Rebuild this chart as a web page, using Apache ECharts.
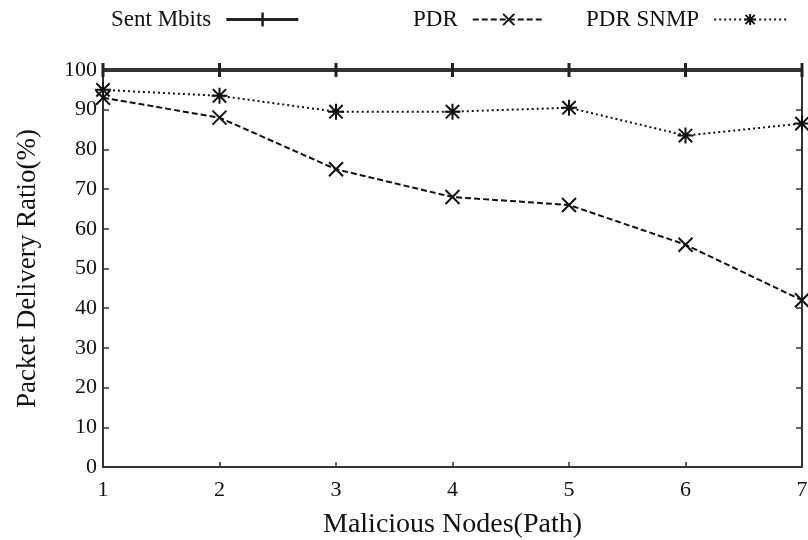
<!DOCTYPE html>
<html><head><meta charset="utf-8">
<script src="https://cdn.jsdelivr.net/npm/echarts@6/dist/echarts.min.js"></script>
<style>html,body{margin:0;padding:0;background:#fff}#c{width:808px;height:540px}</style>
</head><body><div id="c"></div>
<script>
const xValues = [1, 2, 3, 4, 5, 6, 7];
const sentMbits = [100, 100, 100, 100, 100, 100, 100];
const pdr = [93, 88, 75, 68, 66, 56, 42];
const pdrSnmp = [95, 93.5, 89.5, 89.5, 90.5, 83.5, 86.5];
const yTicks = [0, 10, 20, 30, 40, 50, 60, 70, 80, 90, 100];

const pair = (arr) => xValues.map((x, i) => [x, arr[i]]);
const ink = '#111';
const font = 'Liberation Serif';
const crossPath = 'path://M0,0L10,10M10,0L0,10';
const starPath = 'path://M0,0L10,10M10,0L0,10M5,-1L5,11M-1,5L11,5';
const sentIcon = 'path://M0,5.5L72,5.5L72,8.5L0,8.5Z M35,0L37.5,0L37.5,14L35,14Z';

const chart = echarts.init(document.getElementById('c'), null, {renderer: 'canvas'});
const legendBase = {
  orient: 'horizontal', align: 'right', itemWidth: 72, itemHeight: 14, itemGap: 0,
  textStyle: {fontFamily: font, fontSize: 23, color: ink, padding: [0, 10, 0, 0]}, top: 3
};
chart.setOption({
  animation: false,
  backgroundColor: '#fff',
  legend: [
    Object.assign({}, legendBase, {data: [{name: 'Sent Mbits', icon: sentIcon, itemStyle: {color: '#222'}}], left: 106}),
    Object.assign({}, legendBase, {data: ['PDR'], left: 408}),
    Object.assign({}, legendBase, {data: ['PDR SNMP'], left: 581})
  ],
  grid: {left: 103, right: 6, top: 70, bottom: 73, outerBoundsMode: 'none', containLabel: false},
  xAxis: {
    type: 'value', min: 1, max: 7, interval: 1,
    name: 'Malicious Nodes(Path)', nameLocation: 'middle', nameGap: 44,
    nameTextStyle: {fontFamily: font, fontSize: 28, color: ink},
    axisLine: {show: true, lineStyle: {color: '#333', width: 2}},
    axisTick: {show: true, inside: true, length: 5, lineStyle: {color: '#333', width: 1.5}},
    axisLabel: {fontFamily: font, fontSize: 22, color: ink, margin: 12},
    splitLine: {show: false}
  },
  yAxis: [{
    type: 'value', min: 0, max: 100, interval: 10,
    name: 'Packet Delivery Ratio(%)', nameLocation: 'middle', nameGap: 62,
    nameTextStyle: {fontFamily: font, fontSize: 27, color: ink},
    axisLine: {show: true, lineStyle: {color: '#333', width: 2}},
    axisTick: {show: true, inside: true, length: 6, lineStyle: {color: '#333', width: 1.5}},
    axisLabel: {fontFamily: font, fontSize: 22, color: ink, margin: 6,
      formatter: (v) => yTicks.includes(v) ? String(v) : ''},
    splitLine: {show: false}
  }, {
    type: 'value', min: 0, max: 100, interval: 10, position: 'right',
    axisLine: {show: true, lineStyle: {color: '#333', width: 2}},
    axisTick: {show: true, inside: true, length: 6, lineStyle: {color: '#333', width: 1.5}},
    axisLabel: {show: false},
    splitLine: {show: false}
  }],
  series: [{
    name: 'Sent Mbits', type: 'line', data: pair(sentMbits),
    symbol: 'rect', symbolSize: [3, 14], showSymbol: true, clip: false,
    itemStyle: {color: '#222'},
    lineStyle: {color: '#333', width: 4}, z: 3
  }, {
    name: 'PDR', type: 'line', data: pair(pdr),
    symbol: crossPath, symbolSize: 14,
    itemStyle: {color: 'rgba(0,0,0,0)', borderColor: ink, borderWidth: 2},
    lineStyle: {color: ink, width: 2, type: [6, 3]}
  }, {
    name: 'PDR SNMP', type: 'line', data: pair(pdrSnmp),
    symbol: starPath, symbolSize: 16,
    itemStyle: {color: 'rgba(0,0,0,0)', borderColor: ink, borderWidth: 2},
    lineStyle: {color: ink, width: 2, type: [2, 3]}
  }]
});
</script></body></html>
